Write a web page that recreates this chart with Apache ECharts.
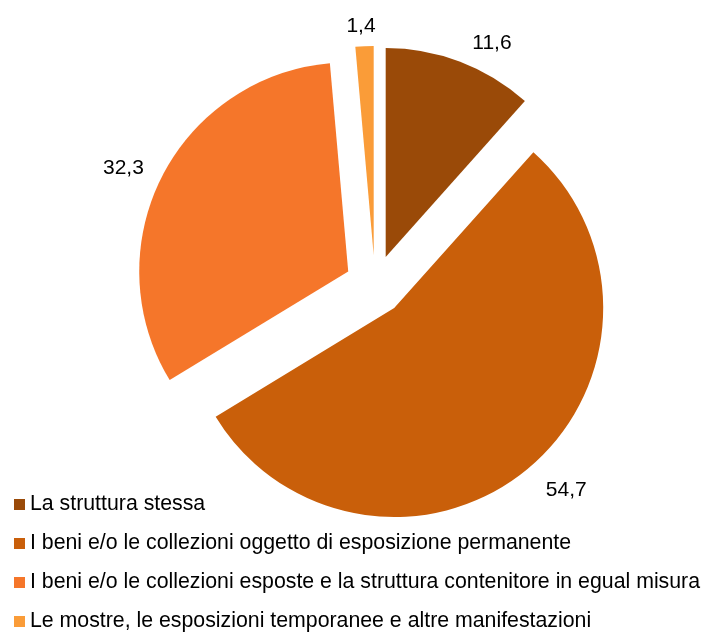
<!DOCTYPE html>
<html>
<head>
<meta charset="utf-8">
<script src="https://cdn.jsdelivr.net/npm/echarts@6/dist/echarts.min.js"></script>
<style>
html,body{margin:0;padding:0;background:#fff;}
#chart{width:705px;height:633px;}
</style>
</head>
<body>
<div id="chart"></div>
<script>
const categories = [
  "La struttura stessa",
  "I beni e/o le collezioni oggetto di esposizione permanente",
  "I beni e/o le collezioni esposte e la struttura contenitore in egual misura",
  "Le mostre, le esposizioni temporanee e altre manifestazioni"
];
const values = [11.6, 54.7, 32.3, 1.4];
const colors = ["#9A4A08", "#C95F0A", "#F5762A", "#FA9C38"];
const labelDistances = [5, 0, 0, -12];
const labelLengths = [20, 28, 20, 20];

const chart = echarts.init(document.getElementById('chart'), null, {renderer: 'canvas'});
const data = categories.map((name, i) => ({
  name: name,
  value: values[i],
  selected: true,
  itemStyle: {color: colors[i]},
  label: {distanceToLabelLine: labelDistances[i]},
  labelLine: {show: false, length: labelLengths[i], length2: 0}
}));

chart.setOption({
  animation: false,
  backgroundColor: '#ffffff',
  legend: {
    orient: 'vertical',
    left: 14,
    top: 494,
    height: 139,
    padding: 0,
    itemWidth: 11,
    itemHeight: 11,
    itemGap: 18,
    icon: 'rect',
    selectedMode: false,
    textStyle: {fontFamily: 'Liberation Sans, Arial, sans-serif', fontSize: 21.3, color: '#000'},
    data: categories
  },
  series: [{
    type: 'pie',
    center: [375, 285],
    radius: [0, 209],
    startAngle: 90,
    clockwise: true,
    selectedMode: 'multiple',
    selectedOffset: 30,
    avoidLabelOverlap: false,
    silent: true,
    emphasis: {disabled: true, scale: false},
    label: {
      show: true,
      position: 'outside',
      fontFamily: 'Liberation Sans, Arial, sans-serif',
      fontSize: 21,
      color: '#000',
      distanceToLabelLine: 5,
      formatter: p => p.value.toFixed(1).replace('.', ',')
    },
    labelLine: {show: false, length: 20, length2: 0},
    data: data
  }]
});
</script>
</body>
</html>
